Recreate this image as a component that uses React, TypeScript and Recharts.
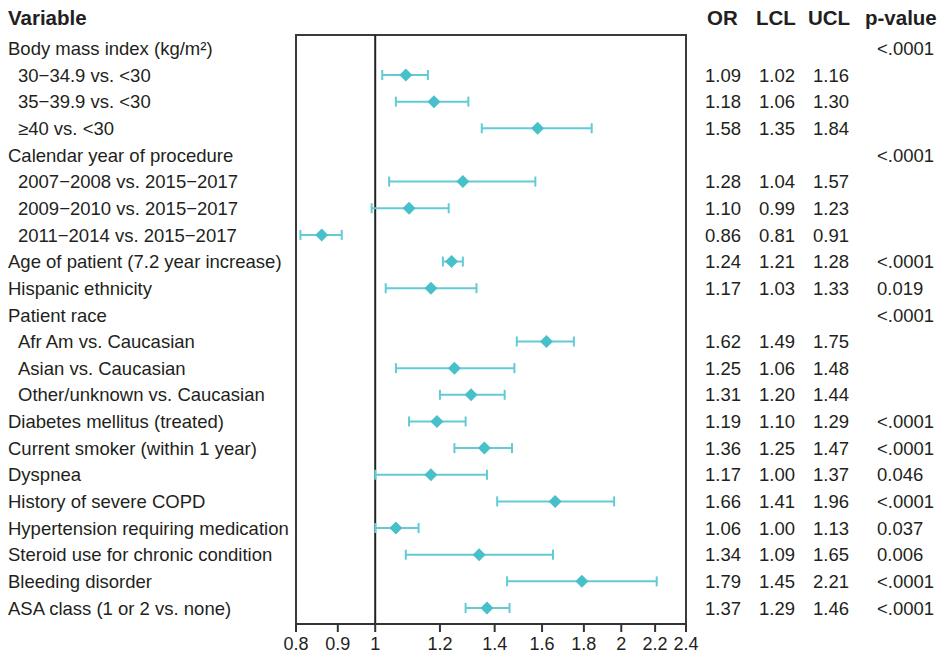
import { ErrorBar, ReferenceArea, ReferenceLine, Scatter, ScatterChart, XAxis, YAxis } from "recharts";

const variables = [
  "Body mass index (kg/m²)",
  "30\u221234.9 vs. <30",
  "35\u221239.9 vs. <30",
  "≥40 vs. <30",
  "Calendar year of procedure",
  "2007\u22122008 vs. 2015\u22122017",
  "2009\u22122010 vs. 2015\u22122017",
  "2011\u22122014 vs. 2015\u22122017",
  "Age of patient (7.2 year increase)",
  "Hispanic ethnicity",
  "Patient race",
  "Afr Am vs. Caucasian",
  "Asian vs. Caucasian",
  "Other/unknown vs. Caucasian",
  "Diabetes mellitus (treated)",
  "Current smoker (within 1 year)",
  "Dyspnea",
  "History of severe COPD",
  "Hypertension requiring medication",
  "Steroid use for chronic condition",
  "Bleeding disorder",
  "ASA class (1 or 2 vs. none)",
];

const indented = [
  false, true, true, true, false, true, true, true, false, false, false,
  true, true, true, false, false, false, false, false, false, false, false,
];

const oddsRatio = [
  null, 1.09, 1.18, 1.58, null, 1.28, 1.1, 0.86, 1.24, 1.17, null,
  1.62, 1.25, 1.31, 1.19, 1.36, 1.17, 1.66, 1.06, 1.34, 1.79, 1.37,
];
const lowerCL = [
  null, 1.02, 1.06, 1.35, null, 1.04, 0.99, 0.81, 1.21, 1.03, null,
  1.49, 1.06, 1.2, 1.1, 1.25, 1.0, 1.41, 1.0, 1.09, 1.45, 1.29,
];
const upperCL = [
  null, 1.16, 1.3, 1.84, null, 1.57, 1.23, 0.91, 1.28, 1.33, null,
  1.75, 1.48, 1.44, 1.29, 1.47, 1.37, 1.96, 1.13, 1.65, 2.21, 1.46,
];
const pValues = [
  "<.0001", "", "", "", "<.0001", "", "", "", "<.0001", "0.019", "<.0001",
  "", "", "", "<.0001", "<.0001", "0.046", "<.0001", "0.037", "0.006", "<.0001", "<.0001",
];

const xTicks = [0.8, 0.9, 1, 1.2, 1.4, 1.6, 1.8, 2, 2.2, 2.4];
const rowTicks = variables.map((_, i) => i);

const FONT = '"Liberation Sans", Arial, Helvetica, sans-serif';
const INK = "#231f20";
const BAR = "#62cbd4";
const MARK = "#48c0ca";

const points = variables
  .map((_, i) => {
    const or = oddsRatio[i];
    const lo = lowerCL[i];
    const hi = upperCL[i];
    if (or == null || lo == null || hi == null) return null;
    return { row: i, or, ci: [or - lo, hi - or] };
  })
  .filter((p) => p !== null);

function RowTick(props: any) {
  const { y, payload } = props;
  const i = payload.value as number;
  const or = oddsRatio[i];
  const lo = lowerCL[i];
  const hi = upperCL[i];
  return (
    <g fontFamily={FONT} fontSize={18.5} fill={INK}>
      <text x={indented[i] ? 18 : 8} y={y} dy="0.36em" textAnchor="start">
        {variables[i]}
      </text>
      {or != null && (
        <>
          <text x={705} y={y} dy="0.36em">{or.toFixed(2)}</text>
          <text x={759} y={y} dy="0.36em">{lo!.toFixed(2)}</text>
          <text x={813} y={y} dy="0.36em">{hi!.toFixed(2)}</text>
        </>
      )}
      {pValues[i] && (
        <text x={877} y={y} dy="0.36em">{pValues[i]}</text>
      )}
    </g>
  );
}

function Diamond(props: any) {
  const { cx, cy } = props;
  const r = 6.5;
  return (
    <polygon
      points={`${cx},${cy - r} ${cx + r},${cy} ${cx},${cy + r} ${cx - r},${cy}`}
      fill={MARK}
    />
  );
}

export default function App() {
  return (
    <div style={{ position: "absolute", left: 0, top: 0, width: 940, height: 660, background: "#fff" }}>
      <svg
        width={940}
        height={40}
        style={{ position: "absolute", left: 0, top: 0 }}
        fontFamily={FONT}
        fontWeight="bold"
        fontSize={20.5}
        fill={INK}
      >
        <text x={8} y={18} dy="0.36em">Variable</text>
        <text x={707} y={18} dy="0.36em">OR</text>
        <text x={756} y={18} dy="0.36em">LCL</text>
        <text x={808} y={18} dy="0.36em">UCL</text>
        <text x={865} y={18} dy="0.36em">p-value</text>
      </svg>
      <ScatterChart width={940} height={660} margin={{ top: 35, right: 254, bottom: 0, left: 0 }}>
        <XAxis
          type="number"
          dataKey="or"
          scale="log"
          domain={[0.8, 2.4]}
          allowDataOverflow
          ticks={xTicks}
          interval={0}
          height={36}
          tickSize={8}
          tickMargin={5}
          axisLine={{ stroke: "#333", strokeWidth: 2 }}
          tickLine={{ stroke: "#333", strokeWidth: 2 }}
          tick={{ fontFamily: FONT, fontSize: 18, fill: INK }}
        />
        <YAxis
          type="number"
          dataKey="row"
          domain={[-0.5, 21.6]}
          reversed
          allowDataOverflow
          ticks={rowTicks}
          interval={0}
          width={296}
          axisLine={false}
          tickLine={false}
          tick={<RowTick />}
        />
        <ReferenceArea
          x1={0.8}
          x2={2.4}
          y1={-0.5}
          y2={21.6}
          fill="none"
          fillOpacity={0}
          stroke="#3a3a3a"
          strokeWidth={2}
        />
        <ReferenceLine x={1} stroke="#222" strokeWidth={2} />
        <Scatter data={points} shape={<Diamond />} isAnimationActive={false}>
          <ErrorBar
            dataKey="ci"
            direction="x"
            width={5}
            stroke={BAR}
            strokeWidth={2}
            isAnimationActive={false}
          />
        </Scatter>
      </ScatterChart>
    </div>
  );
}
